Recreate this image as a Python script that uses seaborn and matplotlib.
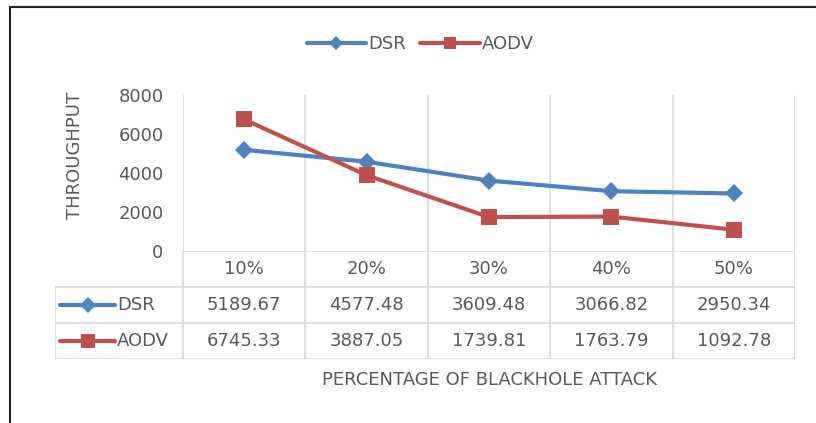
import matplotlib
matplotlib.use("Agg")
import matplotlib.pyplot as plt
import seaborn as sns
import pandas as pd
from matplotlib.lines import Line2D

attack = ['10%', '20%', '30%', '40%', '50%']
dsr = [5189.67, 4577.48, 3609.48, 3066.82, 2950.34]
aodv = [6745.33, 3887.05, 1739.81, 1763.79, 1092.78]
yticks = [0, 2000, 4000, 6000, 8000]

series = {'DSR': dsr, 'AODV': aodv}
colors = {'DSR': '#4F81BD', 'AODV': '#C0504D'}
markers = {'DSR': 'D', 'AODV': 's'}
msize = {'DSR': 9, 'AODV': 11}

df = pd.DataFrame({
    'attack': attack * 2,
    'pos': list(range(len(attack))) * 2,
    'throughput': dsr + aodv,
    'protocol': ['DSR'] * len(attack) + ['AODV'] * len(attack),
})

sns.set_theme(style='white')
plt.rcParams['font.family'] = ['DejaVu Sans']
txt = '#595959'
grid = '#d9d9d9'
fs = 13

W, H = 816, 423
fig = plt.figure(figsize=(W / 100, H / 100), dpi=100)


def px(x0, y0, x1, y1):
    # pixel box -> figure fraction rect
    return [x0 / W, 1 - y1 / H, (x1 - x0) / W, (y1 - y0) / H]


# plot area
ax = fig.add_axes(px(183, 95, 795, 251))
for name in series:
    sub = df[df['protocol'] == name]
    sns.lineplot(data=sub, x='pos', y='throughput', ax=ax, color=colors[name],
                 marker=markers[name], markersize=msize[name], markeredgewidth=0,
                 linewidth=3, legend=False)

n = len(attack)
ax.set_xlim(-0.5, n - 0.5)
ax.set_ylim(0, 8000)
ax.set_yticks(yticks)
ax.set_yticklabels([str(v) for v in yticks], fontsize=fs, color=txt)
ax.set_xticks([])
ax.set_xlabel('')
ax.set_ylabel('')
ax.tick_params(axis='y', length=0, pad=14)
for s in ax.spines.values():
    s.set_visible(False)
for k in range(n + 1):
    ax.axvline(k - 0.5, color=grid, lw=1.2, zorder=0)

# data table under the plot
unit = (795 - 183) / n
left = -0.5 - (183 - 55) / unit
tb = fig.add_axes(px(55, 251, 795, 359))
tb.set_xlim(left, n - 0.5)
tb.set_ylim(3, 0)
tb.axis('off')

tb.plot([-0.5, n - 0.5], [0, 0], color=grid, lw=1.2)
for r in (1, 2, 3):
    tb.plot([left, n - 0.5], [r, r], color=grid, lw=1.2)
for k in range(n + 1):
    tb.plot([k - 0.5, k - 0.5], [0, 3], color=grid, lw=1.2)
tb.plot([left, left], [1, 3], color=grid, lw=1.2)

for j, lab in enumerate(attack):
    tb.text(j, 0.5, lab, ha='center', va='center', fontsize=fs, color=txt)
for i, name in enumerate(series):
    for j, v in enumerate(series[name]):
        tb.text(j, i + 1.5, f'{v:.2f}', ha='center', va='center', fontsize=fs, color=txt)
    x0 = -0.5 + (60 - 183) / unit
    x1 = -0.5 + (115 - 183) / unit
    tb.plot([x0, (x0 + x1) / 2, x1], [i + 1.5] * 3, color=colors[name], lw=3,
            marker=markers[name], markersize=msize[name] - 1, markeredgewidth=0,
            markevery=[1], solid_capstyle='round')
    tb.text(-0.5 + (117 - 183) / unit, i + 1.5, name, ha='left', va='center',
            fontsize=fs, color=txt)

# legend on top
handles = [Line2D([], [], color=colors[nm], lw=3, marker=markers[nm],
                  markersize=msize[nm] - 2, markeredgewidth=0) for nm in series]
fig.legend(handles, list(series), loc='center', bbox_to_anchor=(420 / W, 1 - 44 / H),
           ncol=2, frameon=False, handlelength=3.3, handletextpad=0.1,
           columnspacing=0.8, fontsize=fs, labelcolor=txt)

fig.text(489 / W, 1 - 380 / H, 'PERCENTAGE OF BLACKHOLE ATTACK', ha='center',
         va='center', fontsize=fs, color=txt)
fig.text(75 / W, 1 - 155 / H, 'THROUGHPUT', rotation=90, ha='center',
         va='center', fontsize=fs, color=txt)

# outer frame (left and top edges visible)
fig.add_artist(Line2D([10 / W, 10 / W], [0, 1 - 7 / H], transform=fig.transFigure,
                      color='#222222', lw=1.5))
fig.add_artist(Line2D([10 / W, 1], [1 - 7 / H, 1 - 7 / H], transform=fig.transFigure,
                      color='#222222', lw=1.5))

fig.savefig('out.png', dpi=100)
